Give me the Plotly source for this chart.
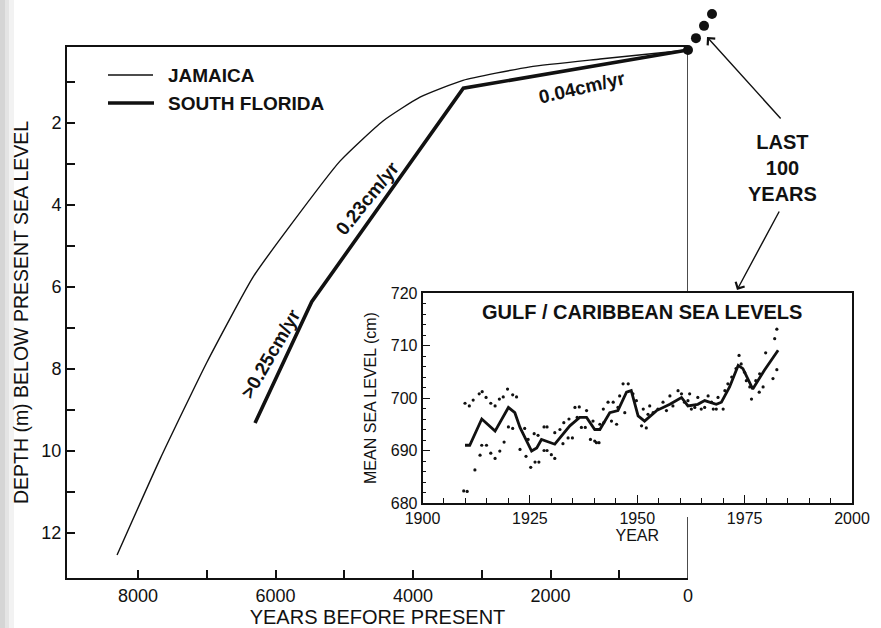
import plotly.graph_objects as go

W, H = 881, 628
FONT = "Liberation Sans, Arial, Helvetica, sans-serif"
INK = "#111111"

# ---------------- data ----------------
# Holocene sea-level curves (years before present, depth in m below present sea level)
jamaica_years = [8305, 7680, 6996, 6327, 5789, 5062, 4436, 3898, 3273, 2298, 1280, 0]
jamaica_depth = [12.54, 10.20, 7.83, 5.76, 4.51, 2.93, 1.95, 1.37, 0.96, 0.63, 0.44, 0.22]

florida_years = [6298, 5473, 3268, 0]
florida_depth = [9.32, 6.36, 1.15, 0.22]

# "last 100 years" dots
recent_years = [0, -116, -233, -349]
recent_depth = [0.22, -0.07, -0.37, -0.66]

# Gulf / Caribbean tide-gauge record (year, mean sea level cm)
smooth_year = [1909.9, 1911.0, 1913.8, 1916.9, 1920.0, 1921.5, 1922.7, 1925.4, 1926.6, 1927.7,
               1930.8, 1934.3, 1936.6, 1938.2, 1940.1, 1941.3, 1943.6, 1945.5, 1947.5, 1948.6,
               1950.2, 1951.7, 1954.5, 1957.6, 1960.3, 1961.8, 1964.1, 1965.7, 1968.4, 1969.6,
               1971.5, 1973.5, 1974.6, 1976.9, 1979.6, 1982.8]
smooth_val = [691.0, 691.0, 696.0, 693.7, 698.2, 697.2, 694.4, 689.9, 690.5, 692.1,
              691.2, 694.7, 696.3, 696.3, 694.0, 694.0, 697.2, 697.6, 701.1, 701.4,
              696.6, 695.6, 697.6, 698.8, 700.1, 698.5, 698.8, 699.5, 698.8, 699.2,
              702.1, 706.2, 705.6, 701.7, 705.3, 709.1]

dot_year = [1909.6, 1910.4, 1909.9, 1910.9, 1911.8, 1913.2, 1913.9, 1914.8, 1915.9, 1916.9,
            1917.9, 1918.8, 1919.8, 1921.0, 1921.9, 1912.2, 1913.8, 1914.9, 1913.4, 1915.9,
            1916.9, 1918.0, 1919.0, 1920.0, 1921.0, 1922.7, 1923.8, 1924.6, 1924.1, 1925.2,
            1926.2, 1927.1, 1926.0, 1926.9, 1928.3, 1929.0, 1928.3, 1929.0, 1930.0, 1930.8,
            1930.8, 1932.0, 1932.7, 1932.9, 1933.9, 1934.9, 1934.1, 1935.5, 1936.5, 1936.0,
            1937.0, 1937.9, 1938.2, 1939.1, 1940.1, 1939.7, 1941.3, 1940.5, 1941.1, 1942.2,
            1942.1, 1943.2, 1944.4, 1944.0, 1945.2, 1945.5, 1945.9, 1946.7, 1947.9, 1947.1,
            1949.0, 1949.8, 1951.0, 1952.1, 1951.4, 1952.5, 1953.7, 1952.9, 1954.8, 1956.0,
            1956.8, 1957.6, 1958.3, 1959.5, 1960.3, 1961.0, 1961.8, 1962.2, 1962.6, 1963.4,
            1964.1, 1964.9, 1965.7, 1966.5, 1967.3, 1967.7, 1968.4, 1968.8, 1970.0, 1970.4,
            1971.1, 1972.0, 1973.0, 1973.7, 1974.2, 1975.0, 1975.4, 1976.2, 1976.6, 1977.6,
            1978.5, 1978.4, 1979.3, 1979.9, 1981.6, 1982.0, 1982.5, 1982.5]
dot_val = [682.3, 682.2, 699.0, 698.5, 699.6, 700.8, 701.2, 700.1, 699.0, 698.5,
           699.8, 700.2, 701.7, 700.6, 700.2, 686.3, 691.0, 691.0, 689.1, 689.5,
           688.5, 689.9, 691.6, 694.5, 694.2, 690.2, 694.2, 692.1, 688.9, 686.8,
           687.8, 687.8, 693.2, 692.9, 694.5, 694.5, 690.0, 690.0, 689.2, 693.4,
           688.5, 694.0, 691.3, 695.3, 692.4, 692.4, 696.0, 698.2, 698.3, 696.3,
           694.4, 694.4, 697.6, 692.1, 691.8, 695.6, 695.0, 691.5, 691.5, 695.3,
           697.9, 699.2, 699.2, 695.6, 695.0, 698.2, 700.4, 702.7, 702.7, 697.2,
           700.8, 699.5, 694.7, 694.3, 697.9, 696.9, 697.2, 698.5, 697.9, 699.2,
           697.6, 700.4, 698.5, 701.4, 700.8, 699.2, 699.5, 700.8, 697.9, 698.2,
           700.1, 697.9, 698.2, 700.4, 699.2, 697.9, 697.9, 700.1, 697.9, 701.4,
           702.7, 704.0, 705.6, 708.1, 706.5, 704.9, 703.3, 702.1, 699.8, 703.3,
           704.6, 701.1, 702.1, 708.6, 703.7, 711.3, 713.1, 705.4]

main_xticks = [8000, 6000, 4000, 2000, 0]
main_xminor = [7000, 5000, 3000, 1000]
main_yticks = [2, 4, 6, 8, 10, 12]
main_yminor = [1, 3, 5, 7, 9, 11]
inset_xticks = [1900, 1925, 1950, 1975, 2000]
inset_yticks = [680, 690, 700, 710, 720]

# ---------------- layout helpers ----------------
def px(x):
    return x / W

def py(y):
    return 1 - y / H

# main axes: x 67..688 px  <->  9033..0 yr ; y 47..578 px <-> 0.146..13.1 m
X_LEFT, X_RIGHT, YR_LEFT, YR_RIGHT = 67, 688, 9033, 0
Y_TOP, Y_BOT, D_TOP, D_BOT = 47, 578, 0.146, 13.1
yr_per_px = (YR_LEFT - YR_RIGHT) / (X_RIGHT - X_LEFT)
m_per_px = (D_BOT - D_TOP) / (Y_BOT - Y_TOP)
# overlay axes with identical scale, extended up/right so the "last 100 years" dots can sit outside the frame
OV_RIGHT, OV_TOP = 730, 0

fig = go.Figure()

fig.add_trace(go.Scatter(x=jamaica_years, y=jamaica_depth, mode="lines", name="JAMAICA",
                         line=dict(color=INK, width=1.4, shape="spline", smoothing=0.5),
                         xaxis="x", yaxis="y", showlegend=False, hoverinfo="skip"))
fig.add_trace(go.Scatter(x=florida_years, y=florida_depth, mode="lines", name="SOUTH FLORIDA",
                         line=dict(color=INK, width=3.6),
                         xaxis="x", yaxis="y", showlegend=False, hoverinfo="skip"))
fig.add_trace(go.Scatter(x=recent_years, y=recent_depth, mode="markers", name="Last 100 years",
                         marker=dict(color=INK, size=10),
                         xaxis="x3", yaxis="y3", showlegend=False))

fig.add_trace(go.Scatter(x=dot_year, y=dot_val, mode="markers", name="annual",
                         marker=dict(color=INK, size=3.2),
                         xaxis="x2", yaxis="y2", showlegend=False))
fig.add_trace(go.Scatter(x=smooth_year, y=smooth_val, mode="lines", name="smoothed",
                         line=dict(color=INK, width=2.8),
                         xaxis="x2", yaxis="y2", showlegend=False))

axis_common = dict(showgrid=False, zeroline=False, showline=True, linecolor=INK,
                   ticks="inside", tickcolor=INK, automargin=False)

fig.update_layout(
    width=W, height=H,
    margin=dict(l=0, r=0, t=0, b=0),
    paper_bgcolor="white", plot_bgcolor="rgba(0,0,0,0)",
    font=dict(family=FONT, color=INK),
    xaxis=dict(axis_common, domain=[px(X_LEFT), px(X_RIGHT)], range=[YR_LEFT, YR_RIGHT], anchor="y",
               linewidth=2, mirror=True, ticklen=8, tickwidth=1.5,
               tickvals=main_xticks, ticktext=[str(v) for v in main_xticks],
               minor=dict(ticks="inside", ticklen=8, tickwidth=1.5, tickvals=main_xminor, tickcolor=INK),
               tickfont=dict(size=18),
               title=dict(text="YEARS BEFORE PRESENT", font=dict(size=20), standoff=5)),
    yaxis=dict(axis_common, domain=[py(Y_BOT), py(Y_TOP)], range=[D_BOT, D_TOP], anchor="x",
               linewidth=2, ticklen=8, tickwidth=1.5,
               tickvals=main_yticks, ticktext=[str(v) for v in main_yticks],
               minor=dict(ticks="inside", ticklen=8, tickwidth=1.5, tickvals=main_yminor, tickcolor=INK),
               tickfont=dict(size=18),
               title=dict(text="DEPTH (m) BELOW PRESENT SEA LEVEL", font=dict(size=19.5), standoff=8)),
    xaxis3=dict(domain=[px(X_LEFT), px(OV_RIGHT)], anchor="y3", visible=False, fixedrange=True,
                range=[YR_LEFT, YR_LEFT - (OV_RIGHT - X_LEFT) * yr_per_px]),
    yaxis3=dict(domain=[py(Y_BOT), py(OV_TOP)], anchor="x3", visible=False, fixedrange=True,
                range=[D_BOT, D_BOT - (Y_BOT - OV_TOP) * m_per_px]),
    xaxis2=dict(axis_common, domain=[px(422.5), px(852)], range=[1900, 2000], anchor="y2",
                linewidth=1.6, mirror=True, ticklen=8, tickwidth=1.2,
                tickvals=inset_xticks, ticktext=[str(v) for v in inset_xticks],
                minor=dict(ticks="inside", ticklen=5, tickwidth=1.2, dtick=5, tickcolor=INK),
                tickfont=dict(size=16),
                title=dict(text="YEAR", font=dict(size=16), standoff=2)),
    yaxis2=dict(axis_common, domain=[py(503), py(293)], range=[680, 720], anchor="x2",
                linewidth=1.6, mirror=True, ticklen=8, tickwidth=1.2,
                tickvals=inset_yticks, ticktext=[str(v) for v in inset_yticks],
                minor=dict(ticks="inside", ticklen=4, tickwidth=1.2, dtick=2, tickcolor=INK),
                tickfont=dict(size=16),
                title=dict(text="MEAN SEA LEVEL (cm)", font=dict(size=16), standoff=10)),
)

# faint scanned-page shading along the left edge
for x1, op in [(14, 0.10), (9, 0.12), (5, 0.14)]:
    fig.add_shape(type="rect", xref="paper", yref="paper", x0=0, x1=px(x1), y0=0, y1=1,
                  fillcolor="#808080", opacity=op, line=dict(width=0), layer="below")

# connector from present-day point down to the inset, and below the inset
fig.add_shape(type="line", xref="x", yref="paper", x0=0, x1=0, y0=py(50), y1=py(293),
              line=dict(color=INK, width=1.5))
fig.add_shape(type="line", xref="x", yref="paper", x0=0, x1=0, y0=py(517), y1=py(578),
              line=dict(color=INK, width=1.5))

# legend (drawn)
fig.add_shape(type="line", xref="paper", yref="paper", x0=px(108), x1=px(153), y0=py(75), y1=py(75),
              line=dict(color=INK, width=1.4))
fig.add_shape(type="line", xref="paper", yref="paper", x0=px(108), x1=px(154), y0=py(103), y1=py(103),
              line=dict(color=INK, width=3.6))

def label(text, x, y, size, bold=True, angle=0, xanchor="center", yanchor="middle"):
    fig.add_annotation(text=f"<b>{text}</b>" if bold else text, xref="paper", yref="paper",
                       x=px(x), y=py(y), showarrow=False, textangle=angle,
                       xanchor=xanchor, yanchor=yanchor, font=dict(size=size, color=INK, family=FONT))

label("JAMAICA", 166, 75, 19, xanchor="left")
label("SOUTH FLORIDA", 166, 104, 19, xanchor="left")
label("0.04cm/yr", 582, 88, 19, angle=-13)
label("0.23cm/yr", 367, 198, 19, angle=-51)
label("&gt;0.25cm/yr", 270, 354, 19, angle=-60)
label("GULF / CARIBBEAN SEA LEVELS", 642, 312, 20)
label("LAST<br>100<br>YEARS", 782, 168, 20)

# arrows
for head, tail in [((707, 37), (782, 120)), ((737, 290), (780, 210))]:
    fig.add_annotation(text="", xref="paper", yref="paper", x=px(head[0]), y=py(head[1]),
                       ax=tail[0] - head[0], ay=tail[1] - head[1], axref="pixel", ayref="pixel",
                       showarrow=True, arrowhead=4, arrowsize=1.4, arrowwidth=1.4, arrowcolor=INK)

fig.write_html("out.html", config={"displayModeBar": False},
               post_script="document.body.style.margin='0px';")
